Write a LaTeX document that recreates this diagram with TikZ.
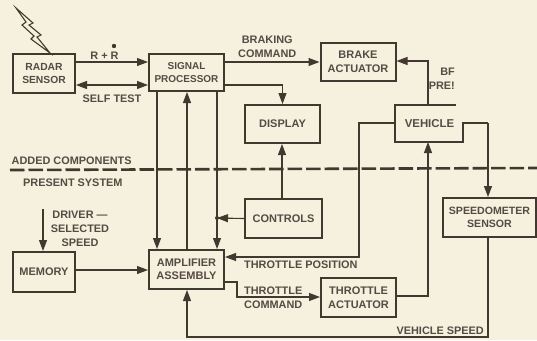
\documentclass[tikz,border=0pt]{standalone}
\usepackage{fontspec}
\setmainfont{Liberation Sans}
\usetikzlibrary{arrows.meta,calc}
\definecolor{paper}{HTML}{F6F0DE}
\definecolor{ink}{HTML}{43382F}
\definecolor{txt}{HTML}{564B44}
\tikzset{
 x=1pt,y=-1pt,
 blk/.style={draw=ink,line width=2pt,fill=paper,inner sep=0pt,align=center,font=\fontsize{11}{13.5}\selectfont\bfseries,text=txt},
 small/.style={font=\fontsize{10.3}{13.5}\selectfont\bfseries},
 conn/.style={draw=ink,line width=1.1pt},
 arr/.style={conn,-{Triangle[length=11pt,width=8pt]}},
 lab/.style={inner sep=0pt,align=center,font=\fontsize{10.9}{14}\selectfont\bfseries,text=txt},
}
\begin{document}
\begin{tikzpicture}
\useasboundingbox (0,0) rectangle (537,340);
\fill[paper] (0,0) rectangle (537,340);
% boxes
\node[blk,small,minimum width=62pt,minimum height=39pt] (radar) at (44,73.5) {RADAR\\SENSOR};
\node[blk,small,font=\fontsize{10}{13.5}\selectfont\bfseries,minimum width=75pt,minimum height=37pt] (sig) at (186.5,72.5) {SIGNAL\\PROCESSOR};
\node[blk,minimum width=75pt,minimum height=38pt] (brake) at (358,62) {BRAKE\\ACTUATOR};
\node[blk,minimum width=75pt,minimum height=38pt] (disp) at (282.5,124) {DISPLAY};
\node[blk,minimum width=77pt,minimum height=39pt] (ctrl) at (283.5,218.5) {CONTROLS};
\node[blk,small,font=\fontsize{10.6}{13.5}\selectfont\bfseries,minimum width=93pt,minimum height=39pt] (speedo) at (489.5,217.5) {SPEEDOMETER\\SENSOR};
\node[blk,minimum width=62pt,minimum height=40pt] (mem) at (44,272) {MEMORY};
\node[blk,minimum width=75pt,minimum height=39pt] (amp) at (186.5,269.5) {AMPLIFIER\\ASSEMBLY};
\node[blk,minimum width=75pt,minimum height=39pt] (thr) at (358.5,297.5) {THROTTLE\\ACTUATOR};
% vehicle (open, notched outline)
\node[lab,font=\fontsize{11.4}{13}\selectfont\bfseries] (veh) at (429.5,123.5) {VEHICLE};
\draw[draw=ink,line width=2pt] (456,105) -- (395,105) -- (395,142) -- (463,142) -- (463,123) -- (488,123);
\coordinate (vt) at (428,105);
\coordinate (vb) at (428,142);
\coordinate (vl) at (395,123);
\coordinate (vr) at (488,123);
% lightning bolt
\coordinate (bt) at (16,8);
\coordinate (bb) at (50,53);
\draw[conn,line join=miter,fill=paper] (bt) -- (33,23) -- (29,25) -- (41,35) -- (37,37) -- (bb) -- (31,39) -- (34,36) -- (22,25) -- (26,22) -- cycle;
% dashed separator
\coordinate (dl) at (10,170);
\coordinate (dr) at (537,168);
% connectors
\draw[arr] (radar.east |- 0,62) -- (sig.west |- 0,62);
\draw[conn,{Triangle[length=11pt,width=8pt]}-{Triangle[length=11pt,width=8pt]}] (radar.east |- 0,85) -- (sig.west |- 0,85);
\draw[arr] (sig.east |- 0,62) -- (brake.west |- 0,62);
\draw[arr] (sig.east |- 0,85) -| (disp.north);
\draw[arr] (vt) |- (brake.east |- 0,61);
\draw[arr] (vl) -- (359,123) -- (359,257) -- (amp.east |- 0,257);
\draw[arr] (thr.east |- 0,296) -| (vb);
\draw[arr] (vr) -- (speedo.north -| vr);
\draw[arr] (speedo.south -| vr) -- (488,337) -- (187,337) -- (amp.south -| 187,0);
\draw[arr] (sig.south -| 157,0) -- (amp.north -| 157,0);
\draw[arr] (amp.north -| 187,0) -- (sig.south -| 187,0);
\draw[arr] (sig.south -| 217,0) -- (amp.north -| 217,0);
\coordinate (jn) at (217,218);
\draw[arr] (ctrl.west) -- (jn);
\fill[ink] (jn) circle (2pt);
\draw[arr] (ctrl.north -| 282,0) -- (disp.south -| 282,0);
\draw[arr] (mem.east |- 0,270) -- (amp.west |- 0,270);
\coordinate (drv) at (43,209);
\draw[arr] (drv) -- (mem.north -| drv);
\draw[arr] (amp.east |- 0,282) -- (237,282) -- (237,297) -- (thr.west |- 0,297);
% dashed line on top
\draw[draw=ink,line width=2.6pt,dash pattern=on 14.5pt off 4pt] (dl) -- (dr);
% labels
\node[lab] (l1) at (104.5,56) {R + R};
\fill[ink] (114,46) circle (2.2pt);
\node[lab] (l2) at (112,99) {SELF TEST};
\node[lab,anchor=west] (l3) at (238,47) {BRAKING\\COMMAND};
\node[lab,anchor=east,align=right] (l4) at (455,78.5) {BF\\PRE!};
\node[lab,anchor=west] (l5) at (11.5,161) {ADDED COMPONENTS};
\node[lab,anchor=west] (l6) at (23,182.5) {PRESENT SYSTEM};
\node[lab] (l7) at (80,229) {DRIVER —\\SELECTED\\SPEED};
\node[lab,anchor=west] (l8) at (244,265) {THROTTLE POSITION};
\node[lab,anchor=west,align=left] (l9) at (244,297.5) {THROTTLE\\COMMAND};
\node[lab,anchor=east] (l10) at (484,331) {VEHICLE SPEED};
\end{tikzpicture}
\end{document}
